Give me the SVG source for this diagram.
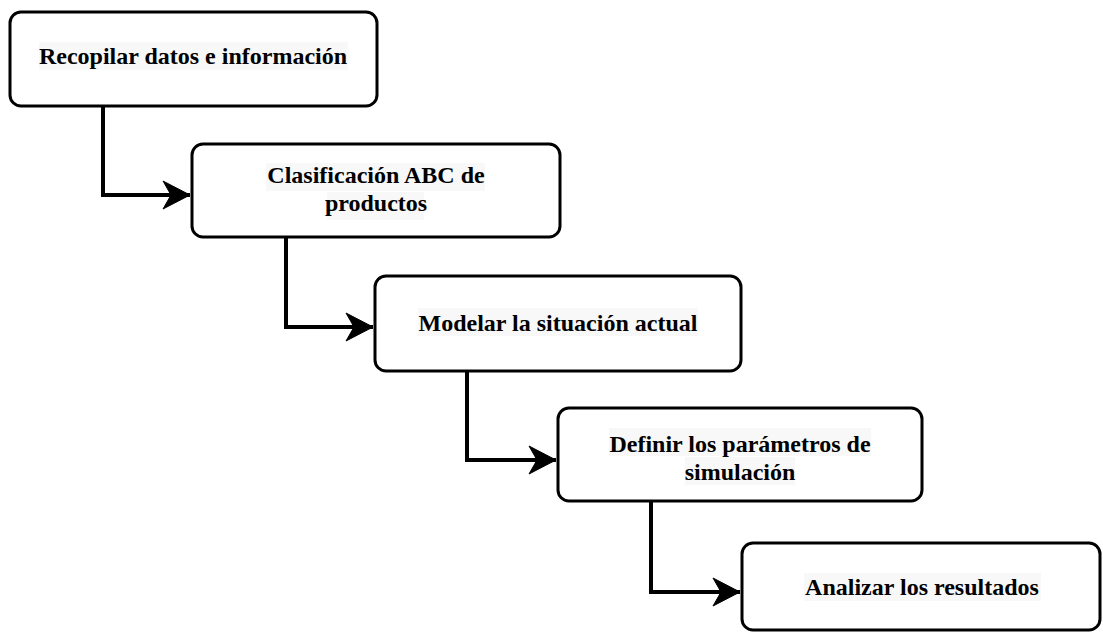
<svg xmlns="http://www.w3.org/2000/svg" width="1103" height="634" viewBox="0 0 1103 634">
  <style>
    .box { fill: #ffffff; stroke: #000000; stroke-width: 3; }
    .lbl { font-family: "Liberation Serif", "Times New Roman", serif; font-weight: bold; font-size: 24px; fill: #000000; text-anchor: middle; }
    .lblbg { fill: #f8f8f8; }
    .edge { fill: none; stroke: #000000; stroke-width: 4; }
  </style>
  <defs>
    <marker id="arrow" markerUnits="userSpaceOnUse" markerWidth="30" markerHeight="32" viewBox="0 0 30 32" refX="28" refY="16" orient="auto">
      <path d="M28,16 L1,2 L9,16 L1,30 Z" fill="#000000" stroke="#000000" stroke-width="1" stroke-linejoin="miter"/>
    </marker>
  </defs>

  <!-- connectors -->
  <g id="connectors">
    <path class="edge" d="M103,106 V195 H190" marker-end="url(#arrow)"/>
    <path class="edge" d="M286,237 V327 H373" marker-end="url(#arrow)"/>
    <path class="edge" d="M467,371 V460 H556" marker-end="url(#arrow)"/>
    <path class="edge" d="M651,501 V592 H740" marker-end="url(#arrow)"/>
  </g>

  <g id="node-recopilar">
    <rect class="box" x="10" y="12" width="367" height="94" rx="11"/>
    <rect class="lblbg" x="39" y="42" width="309" height="28"/>
    <text class="lbl" x="193" y="64">Recopilar datos e información</text>
  </g>

  <g id="node-clasificacion">
    <rect class="box" x="192" y="144" width="368" height="93" rx="11"/>
    <rect class="lblbg" x="266" y="163" width="219" height="28"/>
    <rect class="lblbg" x="327" y="192" width="97" height="28"/>
    <text class="lbl" x="376" y="183">Clasificación ABC de</text>
    <text class="lbl" x="376" y="211">productos</text>
  </g>

  <g id="node-modelar">
    <rect class="box" x="375" y="276" width="366" height="95" rx="11"/>
    <rect class="lblbg" x="418" y="308" width="280" height="28"/>
    <text class="lbl" x="558" y="331">Modelar la situación actual</text>
  </g>

  <g id="node-definir">
    <rect class="box" x="558" y="408" width="364" height="93" rx="11"/>
    <rect class="lblbg" x="609" y="428" width="262" height="28"/>
    <rect class="lblbg" x="685" y="457" width="110" height="28"/>
    <text class="lbl" x="740" y="452">Definir los parámetros de</text>
    <text class="lbl" x="740" y="480">simulación</text>
  </g>

  <g id="node-analizar">
    <rect class="box" x="742" y="543" width="358" height="87" rx="11"/>
    <rect class="lblbg" x="804" y="573" width="237" height="28"/>
    <text class="lbl" x="922" y="595">Analizar los resultados</text>
  </g>
</svg>
